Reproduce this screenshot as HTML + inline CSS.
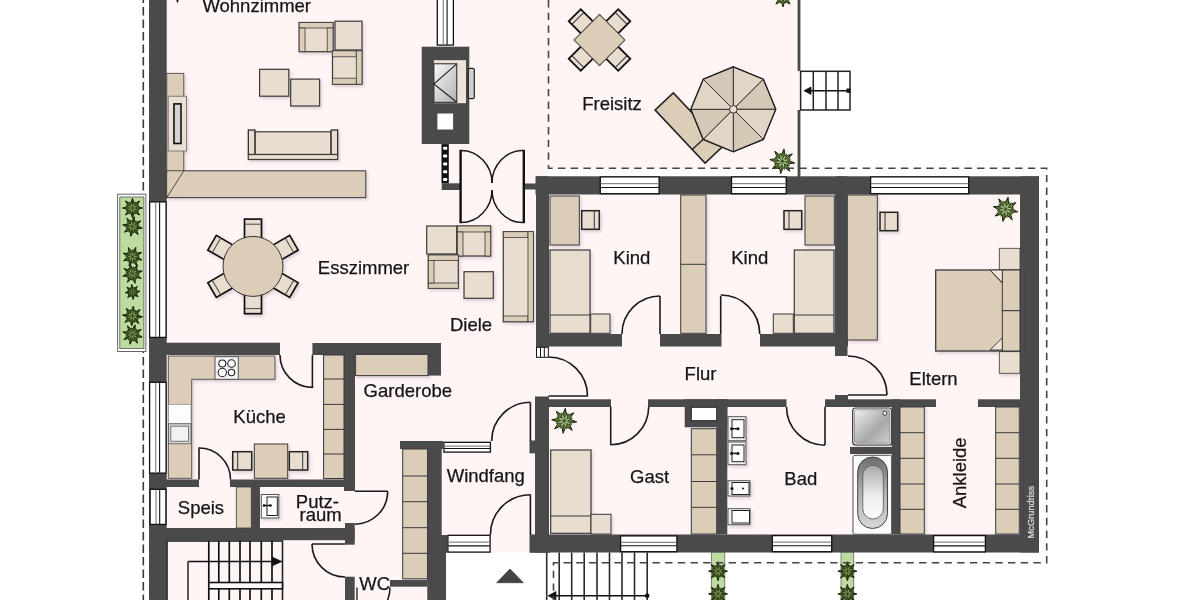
<!DOCTYPE html>
<html><head><meta charset="utf-8"><style>
html,body{margin:0;padding:0;background:#fff;}
svg{display:block;font-family:"Liberation Sans",sans-serif;}
</style></head><body>
<svg width="1200" height="600" viewBox="0 0 1200 600">
<rect x="0.0" y="0.0" width="1200.0" height="600.0" fill="#ffffff" />
<rect x="149.0" y="0.0" width="890.0" height="552.5" fill="#fff5f5" />
<rect x="149.0" y="540.0" width="291.0" height="60.0" fill="#fff5f5" />
<rect x="800.5" y="0.0" width="399.5" height="176.5" fill="#ffffff" />
<rect x="548.5" y="168.3" width="252.0" height="8.2" fill="#ffffff" />
<path d="M143.3,0 V600" stroke="#3a3a3a" stroke-width="1.6" stroke-dasharray="8.5,4" stroke-dashoffset="5.5" fill="none"/>
<rect x="149.0" y="0.0" width="17.7" height="600.0" fill="#4a4a4a" />
<rect x="535.5" y="176.3" width="503.5" height="18.2" fill="#4a4a4a" />
<rect x="1020.0" y="176.3" width="19.0" height="376.2" fill="#4a4a4a" />
<rect x="530.0" y="534.5" width="509.0" height="18.0" fill="#4a4a4a" />
<rect x="536.0" y="176.3" width="13.0" height="170.7" fill="#4a4a4a" />
<rect x="535.0" y="396.5" width="14.0" height="156.0" fill="#4a4a4a" />
<rect x="441.7" y="183.3" width="18.3" height="6.7" fill="#4a4a4a" />
<rect x="525.0" y="183.5" width="11.0" height="6.0" fill="#4a4a4a" />
<rect x="421.7" y="46.7" width="47.6" height="97.3" fill="#4a4a4a" />
<rect x="536.0" y="334.0" width="86.0" height="12.5" fill="#4a4a4a" />
<rect x="660.0" y="334.0" width="61.5" height="12.5" fill="#4a4a4a" />
<rect x="760.0" y="334.0" width="88.0" height="12.5" fill="#4a4a4a" />
<rect x="835.0" y="176.3" width="12.5" height="179.7" fill="#4a4a4a" />
<rect x="835.0" y="395.0" width="13.0" height="12.0" fill="#4a4a4a" />
<rect x="535.0" y="399.3" width="76.0" height="7.7" fill="#4a4a4a" />
<rect x="648.0" y="399.3" width="138.5" height="7.7" fill="#4a4a4a" />
<rect x="825.0" y="399.3" width="111.0" height="7.7" fill="#4a4a4a" />
<rect x="978.0" y="399.3" width="61.0" height="7.7" fill="#4a4a4a" />
<rect x="684.7" y="399.3" width="42.6" height="28.0" fill="#4a4a4a" />
<rect x="716.7" y="399.3" width="10.6" height="135.2" fill="#4a4a4a" />
<rect x="850.0" y="447.0" width="43.0" height="7.0" fill="#4a4a4a" />
<rect x="891.7" y="399.3" width="8.3" height="135.2" fill="#4a4a4a" />
<rect x="149.0" y="342.7" width="131.0" height="12.3" fill="#4a4a4a" />
<rect x="312.4" y="343.0" width="128.6" height="12.0" fill="#4a4a4a" />
<rect x="428.0" y="343.0" width="13.0" height="32.6" fill="#4a4a4a" />
<rect x="344.0" y="343.0" width="11.0" height="148.0" fill="#4a4a4a" />
<rect x="149.0" y="479.5" width="50.0" height="7.5" fill="#4a4a4a" />
<rect x="230.0" y="479.5" width="124.7" height="7.5" fill="#4a4a4a" />
<rect x="251.0" y="487.0" width="9.0" height="41.0" fill="#4a4a4a" />
<rect x="149.0" y="528.0" width="205.7" height="12.2" fill="#4a4a4a" />
<rect x="345.0" y="523.0" width="9.7" height="21.7" fill="#4a4a4a" />
<rect x="345.0" y="576.7" width="9.7" height="23.3" fill="#4a4a4a" />
<rect x="390.0" y="580.0" width="37.5" height="6.7" fill="#4a4a4a" />
<rect x="427.5" y="441.0" width="14.2" height="159.0" fill="#4a4a4a" />
<rect x="400.0" y="441.0" width="43.0" height="8.0" fill="#4a4a4a" />
<rect x="427.0" y="535.0" width="20.3" height="17.7" fill="#4a4a4a" />
<rect x="427.5" y="552.0" width="18.5" height="48.0" fill="#4a4a4a" />
<rect x="529.5" y="440.5" width="6.5" height="12.8" fill="#4a4a4a" />
<rect x="529.5" y="535.3" width="20.5" height="17.4" fill="#4a4a4a" />
<rect x="149.6" y="201.9" width="16.5" height="135.5" fill="#fff" stroke="#111" stroke-width="1.3" />
<line x1="155.7" y1="202.3" x2="155.7" y2="337.0" stroke="#888" stroke-width="1.2" />
<line x1="159.6" y1="202.3" x2="159.6" y2="337.0" stroke="#111" stroke-width="1.1" />
<rect x="149.6" y="382.3" width="16.5" height="90.8" fill="#fff" stroke="#111" stroke-width="1.3" />
<line x1="155.7" y1="382.7" x2="155.7" y2="472.7" stroke="#888" stroke-width="1.2" />
<line x1="159.6" y1="382.7" x2="159.6" y2="472.7" stroke="#111" stroke-width="1.1" />
<rect x="150.1" y="489.3" width="15.8" height="35.1" fill="#fff" stroke="#111" stroke-width="1.3" />
<line x1="156.0" y1="489.7" x2="156.0" y2="524.0" stroke="#888" stroke-width="1.2" />
<line x1="159.7" y1="489.7" x2="159.7" y2="524.0" stroke="#111" stroke-width="1.1" />
<rect x="437.3" y="-1.4" width="16.1" height="46.5" fill="#fff" stroke="#111" stroke-width="1.3" />
<line x1="443.3" y1="-1.0" x2="443.3" y2="44.7" stroke="#888" stroke-width="1.2" />
<line x1="447.1" y1="-1.0" x2="447.1" y2="44.7" stroke="#111" stroke-width="1.1" />
<rect x="600.3" y="176.9" width="58.8" height="16.8" fill="#fff" stroke="#111" stroke-width="1.3" />
<line x1="600.7" y1="183.7" x2="658.7" y2="183.7" stroke="#888" stroke-width="1.2" />
<line x1="600.7" y1="187.5" x2="658.7" y2="187.5" stroke="#111" stroke-width="1.1" />
<rect x="731.5" y="176.9" width="54.7" height="16.8" fill="#fff" stroke="#111" stroke-width="1.3" />
<line x1="731.9" y1="183.7" x2="785.8" y2="183.7" stroke="#888" stroke-width="1.2" />
<line x1="731.9" y1="187.5" x2="785.8" y2="187.5" stroke="#111" stroke-width="1.1" />
<rect x="870.6" y="176.9" width="98.1" height="16.8" fill="#fff" stroke="#111" stroke-width="1.3" />
<line x1="871.0" y1="183.7" x2="968.3" y2="183.7" stroke="#888" stroke-width="1.2" />
<line x1="871.0" y1="187.5" x2="968.3" y2="187.5" stroke="#111" stroke-width="1.1" />
<rect x="620.6" y="535.9" width="56.3" height="15.8" fill="#fff" stroke="#111" stroke-width="1.3" />
<line x1="621.0" y1="542.3" x2="676.5" y2="542.3" stroke="#888" stroke-width="1.2" />
<line x1="621.0" y1="545.8" x2="676.5" y2="545.8" stroke="#111" stroke-width="1.1" />
<rect x="772.3" y="535.6" width="59.4" height="16.1" fill="#fff" stroke="#111" stroke-width="1.3" />
<line x1="772.7" y1="542.1" x2="831.3" y2="542.1" stroke="#888" stroke-width="1.2" />
<line x1="772.7" y1="545.7" x2="831.3" y2="545.7" stroke="#111" stroke-width="1.1" />
<rect x="933.6" y="535.6" width="51.8" height="16.3" fill="#fff" stroke="#111" stroke-width="1.3" />
<line x1="934.0" y1="542.2" x2="985.0" y2="542.2" stroke="#888" stroke-width="1.2" />
<line x1="934.0" y1="545.9" x2="985.0" y2="545.9" stroke="#111" stroke-width="1.1" />
<rect x="443.9" y="442.3" width="46.5" height="9.8" fill="#fff" stroke="#111" stroke-width="1.3" />
<line x1="444.3" y1="446.2" x2="490.0" y2="446.2" stroke="#888" stroke-width="1.2" />
<line x1="444.3" y1="448.5" x2="490.0" y2="448.5" stroke="#111" stroke-width="1.1" />
<rect x="447.9" y="535.3" width="42.2" height="16.8" fill="#fff" stroke="#111" stroke-width="1.3" />
<line x1="448.3" y1="542.1" x2="489.7" y2="542.1" stroke="#888" stroke-width="1.2" />
<line x1="448.3" y1="545.9" x2="489.7" y2="545.9" stroke="#111" stroke-width="1.1" />
<line x1="312.4" y1="355.0" x2="312.4" y2="388.0" stroke="#1a1a1a" stroke-width="1.6" />
<path d="M312.4,387.4 A32.4,32.4 0 0 1 280.0,355.0" fill="none" stroke="#1a1a1a" stroke-width="1.6" />
<line x1="199.0" y1="447.5" x2="199.0" y2="479.5" stroke="#1a1a1a" stroke-width="1.6" />
<path d="M199.0,448.0 A31.5,31.5 0 0 1 230.5,479.5" fill="none" stroke="#1a1a1a" stroke-width="1.6" />
<line x1="354.7" y1="491.2" x2="387.7" y2="491.2" stroke="#1a1a1a" stroke-width="1.6" />
<path d="M387.7,491.2 A33,33 0 0 1 354.7,524.2" fill="none" stroke="#1a1a1a" stroke-width="1.6" />
<line x1="312.0" y1="544.0" x2="345.0" y2="544.0" stroke="#1a1a1a" stroke-width="1.6" />
<path d="M312.0,544.0 A33,33 0 0 0 345.0,577.0" fill="none" stroke="#1a1a1a" stroke-width="1.6" />
<line x1="530.4" y1="402.5" x2="530.4" y2="441.0" stroke="#1a1a1a" stroke-width="1.6" />
<path d="M530.4,402.3 A38.7,38.7 0 0 0 491.7,441.0" fill="none" stroke="#1a1a1a" stroke-width="1.6" />
<line x1="530.4" y1="494.5" x2="530.4" y2="535.0" stroke="#1a1a1a" stroke-width="1.6" />
<path d="M530.4,494.7 A40,40 0 0 0 490.4,534.7" fill="none" stroke="#1a1a1a" stroke-width="1.6" />
<path d="M548.5,357.0 A39,39 0 0 1 587.5,396.0" fill="none" stroke="#1a1a1a" stroke-width="1.6" />
<line x1="548.5" y1="396.0" x2="588.0" y2="396.0" stroke="#1a1a1a" stroke-width="1.6" />
<line x1="610.7" y1="406.7" x2="610.7" y2="445.0" stroke="#1a1a1a" stroke-width="1.6" />
<path d="M610.7,444.7 A38,38 0 0 0 648.7,406.7" fill="none" stroke="#1a1a1a" stroke-width="1.6" />
<line x1="825.0" y1="406.7" x2="825.0" y2="445.0" stroke="#1a1a1a" stroke-width="1.6" />
<path d="M825.0,445.2 A38.5,38.5 0 0 1 786.5,406.7" fill="none" stroke="#1a1a1a" stroke-width="1.6" />
<line x1="660.0" y1="296.0" x2="660.0" y2="334.0" stroke="#1a1a1a" stroke-width="1.6" />
<path d="M660.0,296.0 A38,38 0 0 0 622.0,334.0" fill="none" stroke="#1a1a1a" stroke-width="1.6" />
<line x1="720.7" y1="296.0" x2="720.7" y2="334.0" stroke="#1a1a1a" stroke-width="1.6" />
<path d="M720.7,295.0 A39,39 0 0 1 759.7,334.0" fill="none" stroke="#1a1a1a" stroke-width="1.6" />
<line x1="848.0" y1="395.0" x2="887.0" y2="395.0" stroke="#1a1a1a" stroke-width="1.6" />
<path d="M848.0,356.0 A39,39 0 0 1 887.0,395.0" fill="none" stroke="#1a1a1a" stroke-width="1.6" />
<rect x="459.4" y="149.8" width="2.4" height="73.4" fill="#111" />
<rect x="522.6" y="149.8" width="2.4" height="73.4" fill="#111" />
<path d="M461,150.5 A31,32.5 0 0 1 492,183" fill="none" stroke="#1a1a1a" stroke-width="1.5" />
<path d="M461,222.5 A31,32.5 0 0 0 492,190" fill="none" stroke="#1a1a1a" stroke-width="1.5" />
<path d="M523,150.5 A31,32.5 0 0 0 492,183" fill="none" stroke="#1a1a1a" stroke-width="1.5" />
<path d="M523,222.5 A31,32.5 0 0 1 492,190" fill="none" stroke="#1a1a1a" stroke-width="1.5" />
<rect x="797.6" y="-1.0" width="2.8" height="72.0" fill="#4a4a4a" />
<rect x="797.6" y="110.0" width="2.8" height="67.0" fill="#4a4a4a" />
<rect x="800.6" y="71.3" width="49.4" height="38.7" fill="#fff" stroke="#222" stroke-width="1.5" />
<line x1="813.3" y1="71.3" x2="813.3" y2="110.0" stroke="#222" stroke-width="1.5" />
<line x1="826.0" y1="71.3" x2="826.0" y2="110.0" stroke="#222" stroke-width="1.5" />
<line x1="838.0" y1="71.3" x2="838.0" y2="110.0" stroke="#222" stroke-width="1.5" />
<line x1="808.0" y1="90.7" x2="849.0" y2="90.7" stroke="#111" stroke-width="1.4" />
<path d="M804,90.7 L811,87 L811,94.4 Z" fill="#111" stroke="#111" stroke-width="0.8" />
<rect x="846.5" y="88.5" width="4.0" height="4.3" fill="#111" />
<g transform="rotate(135 617.2 57.7)">
<rect x="608.7" y="47.7" width="17.0" height="20.0" fill="#e9ddd0" stroke="#111" stroke-width="1.8" />
<line x1="608.7" y1="52.2" x2="625.7" y2="52.2" stroke="#333" stroke-width="1.0" />
</g>
<g transform="rotate(225 581.8 57.7)">
<rect x="573.3" y="47.7" width="17.0" height="20.0" fill="#e9ddd0" stroke="#111" stroke-width="1.8" />
<line x1="573.3" y1="52.2" x2="590.3" y2="52.2" stroke="#333" stroke-width="1.0" />
</g>
<g transform="rotate(315 581.8 22.3)">
<rect x="573.3" y="12.3" width="17.0" height="20.0" fill="#e9ddd0" stroke="#111" stroke-width="1.8" />
<line x1="573.3" y1="16.8" x2="590.3" y2="16.8" stroke="#333" stroke-width="1.0" />
</g>
<g transform="rotate(405 617.2 22.3)">
<rect x="608.7" y="12.3" width="17.0" height="20.0" fill="#e9ddd0" stroke="#111" stroke-width="1.8" />
<line x1="608.7" y1="16.8" x2="625.7" y2="16.8" stroke="#333" stroke-width="1.0" />
</g>
<rect x="581.5" y="22" width="36" height="36" fill="#dccdb9" stroke="#444" stroke-width="1" transform="rotate(45 599.5 40)"/>
<g transform="rotate(46.8 689.2 128)">
<rect x="652.7" y="115.5" width="73.0" height="25.0" fill="#dccdb9" stroke="#222" stroke-width="1.6" />
<line x1="707.0" y1="115.5" x2="707.0" y2="140.5" stroke="#222" stroke-width="1.4" />
</g>
<path d="M733.3,109.3 L733.3,66.8 L763.4,79.2 Z" fill="#e2d5c6" stroke="#333" stroke-width="1"/>
<path d="M733.3,109.3 L763.4,79.2 L775.8,109.3 Z" fill="#d6c8b6" stroke="#333" stroke-width="1"/>
<path d="M733.3,109.3 L775.8,109.3 L763.4,139.4 Z" fill="#e2d5c6" stroke="#333" stroke-width="1"/>
<path d="M733.3,109.3 L763.4,139.4 L733.3,151.8 Z" fill="#d6c8b6" stroke="#333" stroke-width="1"/>
<path d="M733.3,109.3 L733.3,151.8 L703.2,139.4 Z" fill="#e2d5c6" stroke="#333" stroke-width="1"/>
<path d="M733.3,109.3 L703.2,139.4 L690.8,109.3 Z" fill="#d6c8b6" stroke="#333" stroke-width="1"/>
<path d="M733.3,109.3 L690.8,109.3 L703.2,79.2 Z" fill="#e2d5c6" stroke="#333" stroke-width="1"/>
<path d="M733.3,109.3 L703.2,79.2 L733.3,66.8 Z" fill="#d6c8b6" stroke="#333" stroke-width="1"/>
<polygon points="733.3,66.8 763.4,79.2 775.8,109.3 763.4,139.4 733.3,151.8 703.2,139.4 690.8,109.3 703.2,79.2" fill="none" stroke="#222" stroke-width="1.3"/>
<circle cx="733.3" cy="109.3" r="3.8" fill="#eadfd2" stroke="#333" stroke-width="1"/>
<defs><filter id="fsh" x="-20%" y="-20%" width="140%" height="140%"><feDropShadow dx="1.5" dy="2" stdDeviation="1.8" flood-color="#5a5060" flood-opacity="0.22"/></filter></defs>
<g filter="url(#fsh)">
<rect x="166.8" y="73.3" width="17.0" height="123.7" fill="#dccdb9" stroke="#3a3a3a" stroke-width="0.8" />
<rect x="166.8" y="170.8" width="199.0" height="26.8" fill="#dccdb9" stroke="#3a3a3a" stroke-width="1" />
<rect x="167.5" y="171.6" width="16.3" height="25.4" fill="#dccdb9" />
<line x1="183.8" y1="170.8" x2="167.0" y2="197.3" stroke="#3a3a3a" stroke-width="0.9" />
<rect x="168.2" y="96.2" width="18.4" height="54.8" fill="#eadfd2" stroke="#666" stroke-width="0.8" />
<rect x="174.0" y="103.9" width="7.0" height="39.6" fill="#d4d4d4" stroke="#111" stroke-width="1.6" />
<rect x="255.0" y="131.8" width="76.0" height="22.7" fill="#e9ddd0" stroke="#3a3a3a" stroke-width="1.2" />
<rect x="248.3" y="130.0" width="6.6" height="24.5" fill="#e9ddd0" stroke="#222" stroke-width="1.2" />
<rect x="331.1" y="130.0" width="6.6" height="24.5" fill="#e9ddd0" stroke="#222" stroke-width="1.2" />
<rect x="248.3" y="154.5" width="89.4" height="5.0" fill="#e9ddd0" stroke="#3a3a3a" stroke-width="1.2" />
<rect x="259.6" y="69.3" width="29.2" height="26.9" fill="#e9ddd0" stroke="#3a3a3a" stroke-width="1.2" />
<rect x="290.7" y="79.1" width="28.9" height="26.9" fill="#e9ddd0" stroke="#3a3a3a" stroke-width="1.2" />
<rect x="299.2" y="22.5" width="33.8" height="29.2" fill="#e9ddd0" stroke="#3a3a3a" stroke-width="1.2" />
<rect x="299.2" y="22.5" width="33.8" height="5.5" fill="#dccdb9" stroke="#3a3a3a" stroke-width="0.8" />
<rect x="299.2" y="28.0" width="5.8" height="23.7" fill="#dccdb9" stroke="#3a3a3a" stroke-width="0.8" />
<rect x="327.2" y="28.0" width="5.8" height="23.7" fill="#dccdb9" stroke="#3a3a3a" stroke-width="0.8" />
<rect x="335.0" y="21.2" width="27.0" height="28.8" fill="#e9ddd0" stroke="#3a3a3a" stroke-width="1.2" />
<rect x="332.5" y="50.8" width="29.5" height="33.4" fill="#e9ddd0" stroke="#3a3a3a" stroke-width="1.2" />
<rect x="332.5" y="50.8" width="23.8" height="6.0" fill="#dccdb9" stroke="#3a3a3a" stroke-width="0.8" />
<rect x="332.5" y="78.2" width="23.8" height="6.0" fill="#dccdb9" stroke="#3a3a3a" stroke-width="0.8" />
<rect x="356.3" y="50.8" width="5.7" height="33.4" fill="#dccdb9" stroke="#3a3a3a" stroke-width="0.8" />
<g transform="rotate(0 253.0 229.4)">
<rect x="244.5" y="219.1" width="17.0" height="20.6" fill="#e9ddd0" stroke="#111" stroke-width="1.7" />
<line x1="244.5" y1="224.2" x2="261.5" y2="224.2" stroke="#444" stroke-width="1.0" />
</g>
<g transform="rotate(60 285.0 247.9)">
<rect x="276.5" y="237.6" width="17.0" height="20.6" fill="#e9ddd0" stroke="#111" stroke-width="1.7" />
<line x1="276.5" y1="242.7" x2="293.5" y2="242.7" stroke="#444" stroke-width="1.0" />
</g>
<g transform="rotate(120 285.0 284.9)">
<rect x="276.5" y="274.6" width="17.0" height="20.6" fill="#e9ddd0" stroke="#111" stroke-width="1.7" />
<line x1="276.5" y1="279.7" x2="293.5" y2="279.7" stroke="#444" stroke-width="1.0" />
</g>
<g transform="rotate(180 253.0 303.4)">
<rect x="244.5" y="293.1" width="17.0" height="20.6" fill="#e9ddd0" stroke="#111" stroke-width="1.7" />
<line x1="244.5" y1="298.2" x2="261.5" y2="298.2" stroke="#444" stroke-width="1.0" />
</g>
<g transform="rotate(240 221.0 284.9)">
<rect x="212.5" y="274.6" width="17.0" height="20.6" fill="#e9ddd0" stroke="#111" stroke-width="1.7" />
<line x1="212.5" y1="279.7" x2="229.5" y2="279.7" stroke="#444" stroke-width="1.0" />
</g>
<g transform="rotate(300 221.0 247.9)">
<rect x="212.5" y="237.6" width="17.0" height="20.6" fill="#e9ddd0" stroke="#111" stroke-width="1.7" />
<line x1="212.5" y1="242.7" x2="229.5" y2="242.7" stroke="#444" stroke-width="1.0" />
</g>
<circle cx="253" cy="266.4" r="30" fill="#dccdb9" stroke="#333" stroke-width="1"/>
<rect x="426.7" y="226.0" width="30.0" height="28.0" fill="#e9ddd0" stroke="#3a3a3a" stroke-width="1.2" />
<rect x="457.3" y="226.0" width="33.4" height="30.0" fill="#e9ddd0" stroke="#3a3a3a" stroke-width="1.2" />
<rect x="457.3" y="226.0" width="33.4" height="6.0" fill="#dccdb9" stroke="#3a3a3a" stroke-width="0.8" />
<rect x="457.3" y="232.0" width="5.7" height="24.0" fill="#dccdb9" stroke="#3a3a3a" stroke-width="0.8" />
<rect x="485.0" y="232.0" width="5.7" height="24.0" fill="#dccdb9" stroke="#3a3a3a" stroke-width="0.8" />
<rect x="428.3" y="255.0" width="30.0" height="33.3" fill="#e9ddd0" stroke="#3a3a3a" stroke-width="1.2" />
<rect x="428.3" y="255.0" width="30.0" height="5.5" fill="#dccdb9" stroke="#3a3a3a" stroke-width="0.8" />
<rect x="428.3" y="283.0" width="30.0" height="5.3" fill="#dccdb9" stroke="#3a3a3a" stroke-width="0.8" />
<rect x="428.3" y="260.5" width="5.7" height="22.5" fill="#dccdb9" stroke="#3a3a3a" stroke-width="0.8" />
<rect x="464.0" y="271.7" width="29.3" height="26.6" fill="#e9ddd0" stroke="#3a3a3a" stroke-width="1.2" />
<rect x="503.3" y="231.7" width="30.0" height="90.0" fill="#e9ddd0" stroke="#3a3a3a" stroke-width="1.2" />
<rect x="503.3" y="231.7" width="24.7" height="5.8" fill="#dccdb9" stroke="#3a3a3a" stroke-width="0.8" />
<rect x="503.3" y="316.0" width="24.7" height="5.7" fill="#dccdb9" stroke="#3a3a3a" stroke-width="0.8" />
<rect x="528.0" y="231.7" width="5.3" height="90.0" fill="#dccdb9" stroke="#3a3a3a" stroke-width="0.8" />
<rect x="550.0" y="196.0" width="29.3" height="49.0" fill="#dccdb9" stroke="#3a3a3a" stroke-width="1" />
<rect x="581.7" y="210.7" width="17.6" height="18.6" fill="#e9ddd0" stroke="#222" stroke-width="1.5" />
<line x1="594.3" y1="210.7" x2="594.3" y2="229.3" stroke="#333" stroke-width="1" />
<rect x="550.0" y="250.0" width="40.0" height="83.3" fill="#e9ddd0" stroke="#3a3a3a" stroke-width="1.2" />
<line x1="550.0" y1="315.0" x2="590.0" y2="315.0" stroke="#3a3a3a" stroke-width="1.2" />
<rect x="590.7" y="314.0" width="19.3" height="19.3" fill="#e9ddd0" stroke="#3a3a3a" stroke-width="1" />
<rect x="680.7" y="195.0" width="25.3" height="138.3" fill="#dccdb9" stroke="#3a3a3a" stroke-width="1" />
<line x1="680.7" y1="264.3" x2="706.0" y2="264.3" stroke="#3a3a3a" stroke-width="1" />
<rect x="805.0" y="196.0" width="29.3" height="49.0" fill="#dccdb9" stroke="#3a3a3a" stroke-width="1" />
<rect x="784.0" y="210.7" width="17.7" height="18.6" fill="#e9ddd0" stroke="#222" stroke-width="1.5" />
<line x1="789.0" y1="210.7" x2="789.0" y2="229.3" stroke="#333" stroke-width="1" />
<rect x="794.3" y="250.0" width="39.7" height="83.3" fill="#e9ddd0" stroke="#3a3a3a" stroke-width="1.2" />
<line x1="794.3" y1="315.0" x2="834.0" y2="315.0" stroke="#3a3a3a" stroke-width="1.2" />
<rect x="773.3" y="314.0" width="20.0" height="19.3" fill="#e9ddd0" stroke="#3a3a3a" stroke-width="1" />
<rect x="847.3" y="195.0" width="30.0" height="145.0" fill="#dccdb9" stroke="#3a3a3a" stroke-width="1" />
<rect x="880.0" y="212.3" width="17.7" height="18.4" fill="#e9ddd0" stroke="#222" stroke-width="1.5" />
<line x1="885.0" y1="212.3" x2="885.0" y2="230.7" stroke="#333" stroke-width="1" />
<rect x="999.3" y="248.3" width="20.7" height="21.7" fill="#e9ddd0" stroke="#3a3a3a" stroke-width="0.8" />
<rect x="999.3" y="351.7" width="20.7" height="21.6" fill="#e9ddd0" stroke="#3a3a3a" stroke-width="0.8" />
<rect x="935.7" y="270.0" width="84.3" height="81.0" fill="#dccdb9" stroke="#3a3a3a" stroke-width="1.3" />
<rect x="1002.3" y="270.0" width="17.7" height="40.7" fill="#dccdb9" stroke="#3a3a3a" stroke-width="1" />
<rect x="1002.3" y="310.7" width="17.7" height="40.3" fill="#dccdb9" stroke="#3a3a3a" stroke-width="1" />
<path d="M990,270 L1002.3,270 L1002.3,283 Z" fill="#eee4d8" stroke="#333" stroke-width="0.9" />
<path d="M990,270 L1002.3,283" fill="none" stroke="#333" stroke-width="0.9" />
<path d="M990,350 L1002.3,350 L1002.3,338 Z" fill="#eee4d8" stroke="#333" stroke-width="0.9" />
<rect x="900.0" y="407.0" width="24.3" height="127.0" fill="#dccdb9" stroke="#3a3a3a" stroke-width="1" />
<line x1="900.0" y1="432.7" x2="924.3" y2="432.7" stroke="#3a3a3a" stroke-width="1" />
<line x1="900.0" y1="458.3" x2="924.3" y2="458.3" stroke="#3a3a3a" stroke-width="1" />
<line x1="900.0" y1="484.0" x2="924.3" y2="484.0" stroke="#3a3a3a" stroke-width="1" />
<line x1="900.0" y1="509.3" x2="924.3" y2="509.3" stroke="#3a3a3a" stroke-width="1" />
<rect x="995.7" y="407.0" width="23.6" height="127.0" fill="#dccdb9" stroke="#3a3a3a" stroke-width="1" />
<line x1="995.7" y1="432.7" x2="1019.3" y2="432.7" stroke="#3a3a3a" stroke-width="1" />
<line x1="995.7" y1="458.3" x2="1019.3" y2="458.3" stroke="#3a3a3a" stroke-width="1" />
<line x1="995.7" y1="484.0" x2="1019.3" y2="484.0" stroke="#3a3a3a" stroke-width="1" />
<line x1="995.7" y1="509.3" x2="1019.3" y2="509.3" stroke="#3a3a3a" stroke-width="1" />
<defs><linearGradient id="gsh" x1="0" y1="0" x2="1" y2="1"><stop offset="0" stop-color="#f0f0f0"/><stop offset="0.6" stop-color="#a8a8a8"/><stop offset="1" stop-color="#d0d0d0"/></linearGradient><linearGradient id="gtub" x1="0" y1="0" x2="0" y2="1"><stop offset="0" stop-color="#6e6e6e"/><stop offset="0.5" stop-color="#b0b0b0"/><stop offset="1" stop-color="#d8d8d8"/></linearGradient><linearGradient id="gst" x1="0" y1="0" x2="1" y2="1"><stop offset="0" stop-color="#fafafa"/><stop offset="1" stop-color="#b0b0b0"/></linearGradient><linearGradient id="gtub2" x1="0" y1="0" x2="0" y2="1"><stop offset="0" stop-color="#a8a8a8"/><stop offset="0.6" stop-color="#f0f0f0"/><stop offset="1" stop-color="#fafafa"/></linearGradient></defs>
<rect x="852.7" y="408" width="39" height="37" rx="3" fill="#fafafa" stroke="#333" stroke-width="1.2"/>
<rect x="854.5" y="409.8" width="35.4" height="33.4" rx="2" fill="url(#gsh)" stroke="#666" stroke-width="0.6"/>
<rect x="883" y="411.5" width="3.6" height="3.6" rx="1" fill="#fff" stroke="#222" stroke-width="0.8"/>
<rect x="853" y="455.3" width="38.6" height="79" rx="2" fill="#fbfbfb" stroke="#555" stroke-width="1"/>
<rect x="857.7" y="457" width="29.8" height="71.5" rx="14.9" fill="url(#gtub)" stroke="#444" stroke-width="1"/>
<rect x="862.8" y="465.3" width="20.5" height="53.7" rx="10.2" fill="url(#gtub2)" stroke="#555" stroke-width="0.8"/>
<rect x="728.0" y="416.7" width="18.0" height="24.0" fill="#f2f2f2" stroke="#555" stroke-width="1" />
<rect x="732.0" y="419.7" width="12.0" height="18.0" fill="#fff" stroke="#222" stroke-width="1" />
<line x1="731.0" y1="428.7" x2="738.0" y2="428.7" stroke="#111" stroke-width="1.5" />
<circle cx="731.5" cy="428.7" r="1.5" fill="#111"/>
<circle cx="738" cy="428.7" r="1.5" fill="#111"/>
<rect x="728.0" y="442.0" width="18.0" height="22.7" fill="#f2f2f2" stroke="#555" stroke-width="1" />
<rect x="732.0" y="445.0" width="12.0" height="16.7" fill="#fff" stroke="#222" stroke-width="1" />
<line x1="731.0" y1="453.4" x2="738.0" y2="453.4" stroke="#111" stroke-width="1.5" />
<circle cx="731.5" cy="453.4" r="1.5" fill="#111"/>
<circle cx="738" cy="453.4" r="1.5" fill="#111"/>
<rect x="728.0" y="480.7" width="22.0" height="15.3" fill="#f2f2f2" stroke="#555" stroke-width="1" />
<rect x="732.0" y="482.5" width="17.0" height="12.0" fill="#fff" stroke="#222" stroke-width="1" />
<circle cx="732" cy="488.5" r="1.5" fill="#111"/><circle cx="743" cy="488.5" r="1" fill="#111"/>
<rect x="728.0" y="508.7" width="22.0" height="16.0" fill="#f2f2f2" stroke="#555" stroke-width="1" />
<rect x="732.0" y="510.5" width="17.5" height="12.5" fill="#fff" stroke="#222" stroke-width="1" />
<rect x="550.7" y="450.0" width="40.3" height="83.3" fill="#e9ddd0" stroke="#3a3a3a" stroke-width="1.2" />
<line x1="550.7" y1="516.0" x2="591.0" y2="516.0" stroke="#3a3a3a" stroke-width="1.2" />
<rect x="591.0" y="514.3" width="20.0" height="19.7" fill="#e9ddd0" stroke="#3a3a3a" stroke-width="1" />
<rect x="691.3" y="428.7" width="25.4" height="105.3" fill="#dccdb9" stroke="#3a3a3a" stroke-width="1" />
<line x1="691.3" y1="454.8" x2="716.7" y2="454.8" stroke="#3a3a3a" stroke-width="1" />
<line x1="691.3" y1="481.5" x2="716.7" y2="481.5" stroke="#3a3a3a" stroke-width="1" />
<line x1="691.3" y1="507.3" x2="716.7" y2="507.3" stroke="#3a3a3a" stroke-width="1" />
<rect x="691.3" y="407.3" width="25.4" height="13.4" fill="#fff" stroke="#222" stroke-width="1" />
<path d="M168.3,356 H275 V379.3 H191.7 V478.3 H168.3 Z" fill="#dccdb9" stroke="#3a3a3a" stroke-width="0.8" />
<rect x="215.0" y="356.7" width="23.3" height="22.6" fill="#f4f4f4" stroke="#555" stroke-width="1" />
<circle cx="222.3" cy="363.5" r="3.5" fill="#fff" stroke="#222" stroke-width="1.1"/>
<circle cx="231.5" cy="363.5" r="3.8" fill="#fff" stroke="#222" stroke-width="1.1"/>
<circle cx="222.3" cy="372.5" r="4.2" fill="#fff" stroke="#222" stroke-width="1.1"/>
<circle cx="231.5" cy="372.5" r="3.2" fill="#fff" stroke="#222" stroke-width="1.1"/>
<rect x="168.5" y="404.5" width="22.5" height="19.3" fill="#fdfdfd" stroke="#999" stroke-width="0.8" />
<rect x="168.5" y="423.8" width="22.5" height="20.0" fill="#d8d8d8" stroke="#555" stroke-width="0.8" />
<rect x="170.8" y="426.2" width="17.7" height="15.1" fill="#f2f2f2" stroke="#777" stroke-width="1" />
<rect x="254.3" y="444.0" width="33.4" height="34.3" fill="#dccdb9" stroke="#3a3a3a" stroke-width="1" />
<rect x="232.7" y="451.7" width="19.0" height="18.3" fill="#e9ddd0" stroke="#222" stroke-width="1.5" />
<line x1="237.7" y1="451.7" x2="237.7" y2="470.0" stroke="#333" stroke-width="1" />
<rect x="289.3" y="451.7" width="18.4" height="18.3" fill="#e9ddd0" stroke="#222" stroke-width="1.5" />
<line x1="302.7" y1="451.7" x2="302.7" y2="470.0" stroke="#333" stroke-width="1" />
<rect x="323.6" y="355.0" width="20.4" height="123.5" fill="#dccdb9" stroke="#3a3a3a" stroke-width="1" />
<line x1="323.6" y1="379.0" x2="344.0" y2="379.0" stroke="#3a3a3a" stroke-width="1" />
<line x1="323.6" y1="404.4" x2="344.0" y2="404.4" stroke="#3a3a3a" stroke-width="1" />
<line x1="323.6" y1="429.4" x2="344.0" y2="429.4" stroke="#3a3a3a" stroke-width="1" />
<line x1="323.6" y1="454.0" x2="344.0" y2="454.0" stroke="#3a3a3a" stroke-width="1" />
<rect x="236.3" y="487.0" width="15.0" height="41.0" fill="#dccdb9" stroke="#3a3a3a" stroke-width="0.8" />
<rect x="261.3" y="494.5" width="17.5" height="23.5" fill="#fafafa" stroke="#555" stroke-width="1" />
<rect x="267.0" y="497.0" width="10.3" height="18.5" fill="#fff" stroke="#222" stroke-width="1" />
<line x1="263.5" y1="505.5" x2="271.0" y2="505.5" stroke="#111" stroke-width="1.4" />
<circle cx="264" cy="505.5" r="1.3" fill="#111"/><circle cx="270.5" cy="505.5" r="1.3" fill="#111"/>
<rect x="355.6" y="354.4" width="72.4" height="21.2" fill="#dccdb9" stroke="#3a3a3a" stroke-width="1" />
<rect x="402.7" y="449.0" width="24.8" height="129.8" fill="#dccdb9" stroke="#3a3a3a" stroke-width="1" />
<line x1="402.7" y1="476.0" x2="427.5" y2="476.0" stroke="#3a3a3a" stroke-width="1" />
<line x1="402.7" y1="501.7" x2="427.5" y2="501.7" stroke="#3a3a3a" stroke-width="1" />
<line x1="402.7" y1="527.7" x2="427.5" y2="527.7" stroke="#3a3a3a" stroke-width="1" />
<line x1="402.7" y1="553.3" x2="427.5" y2="553.3" stroke="#3a3a3a" stroke-width="1" />
</g>
<rect x="433.9" y="60.2" width="32.1" height="43.0" fill="#efe3d8" />
<rect x="433.9" y="63.8" width="22.9" height="38.5" fill="url(#gst)" stroke="#222" stroke-width="1" />
<path d="M456.8,63.8 L433.9,84 L456.8,102.3" fill="none" stroke="#222" stroke-width="1.1" />
<rect x="468.3" y="68.4" width="6" height="30.2" rx="1.5" fill="#cfcfcf" stroke="#222" stroke-width="1.2"/>
<rect x="437.4" y="113.5" width="15.7" height="16.0" fill="#fff" />
<rect x="441.5" y="144.1" width="7.3" height="39.2" fill="#111" />
<rect x="443.1" y="146.8" width="4.1" height="3" rx="0.8" fill="#fff"/>
<rect x="443.1" y="154.6" width="4.1" height="3" rx="0.8" fill="#fff"/>
<rect x="443.1" y="162.4" width="4.1" height="3" rx="0.8" fill="#fff"/>
<rect x="443.1" y="170.2" width="4.1" height="3" rx="0.8" fill="#fff"/>
<rect x="443.1" y="177.9" width="4.1" height="3" rx="0.8" fill="#fff"/>
<rect x="536.5" y="347.3" width="11.8" height="10.0" fill="#fff" stroke="#111" stroke-width="1" />
<line x1="540.5" y1="347.3" x2="540.5" y2="357.3" stroke="#111" stroke-width="1" />
<line x1="544.3" y1="347.3" x2="544.3" y2="357.3" stroke="#111" stroke-width="1" />
<rect x="167.0" y="541.0" width="115.5" height="60.0" fill="#fff5f5" stroke="#222" stroke-width="1.6" />
<line x1="188.0" y1="561.5" x2="188.0" y2="601.0" stroke="#222" stroke-width="1.5" />
<line x1="188.0" y1="561.5" x2="276.0" y2="561.5" stroke="#111" stroke-width="1.5" />
<path d="M282,561.5 L272,557 L272,566 Z" fill="#111" stroke="#111" stroke-width="0.6" />
<line x1="208.8" y1="541.0" x2="208.8" y2="601.0" stroke="#111" stroke-width="1.7" />
<line x1="218.8" y1="541.0" x2="218.8" y2="601.0" stroke="#111" stroke-width="1.7" />
<line x1="229.3" y1="541.0" x2="229.3" y2="601.0" stroke="#111" stroke-width="1.7" />
<line x1="240.0" y1="541.0" x2="240.0" y2="601.0" stroke="#111" stroke-width="1.7" />
<line x1="250.0" y1="541.0" x2="250.0" y2="601.0" stroke="#111" stroke-width="1.7" />
<line x1="261.3" y1="541.0" x2="261.3" y2="601.0" stroke="#111" stroke-width="1.7" />
<line x1="272.0" y1="541.0" x2="272.0" y2="601.0" stroke="#111" stroke-width="1.7" />
<rect x="208.8" y="582.5" width="73.7" height="6.3" fill="#fdfafa" stroke="#111" stroke-width="1.6" />
<line x1="357.0" y1="587.5" x2="357.0" y2="601.0" stroke="#222" stroke-width="1.4" />
<path d="M390,587.5 A33,33 0 0 1 382,609" fill="none" stroke="#1a1a1a" stroke-width="1.5" />
<line x1="546.7" y1="552.5" x2="546.7" y2="601.0" stroke="#2a2a2a" stroke-width="1.6" />
<line x1="559.2" y1="552.5" x2="559.2" y2="601.0" stroke="#2a2a2a" stroke-width="1.6" />
<line x1="571.7" y1="552.5" x2="571.7" y2="601.0" stroke="#2a2a2a" stroke-width="1.6" />
<line x1="584.2" y1="552.5" x2="584.2" y2="601.0" stroke="#2a2a2a" stroke-width="1.6" />
<line x1="597.0" y1="552.5" x2="597.0" y2="601.0" stroke="#2a2a2a" stroke-width="1.6" />
<line x1="609.5" y1="552.5" x2="609.5" y2="601.0" stroke="#2a2a2a" stroke-width="1.6" />
<line x1="622.0" y1="552.5" x2="622.0" y2="601.0" stroke="#2a2a2a" stroke-width="1.6" />
<line x1="634.5" y1="552.5" x2="634.5" y2="601.0" stroke="#2a2a2a" stroke-width="1.6" />
<line x1="647.2" y1="552.5" x2="647.2" y2="601.0" stroke="#2a2a2a" stroke-width="1.6" />
<line x1="553.0" y1="595.8" x2="647.0" y2="595.8" stroke="#111" stroke-width="1.4" />
<path d="M548,595.8 L556,591.5 L556,600 Z" fill="#111" stroke="#111" stroke-width="0.6" />
<circle cx="647.2" cy="595.8" r="2.3" fill="#111"/>
<path d="M496.7,582.7 L510,569 L523.3,582.7 Z" fill="#444" stroke="#444" stroke-width="0.8" />
<rect x="117.6" y="194.2" width="28.3" height="157.3" fill="#fff" stroke="#666" stroke-width="1" />
<rect x="119.8" y="197.0" width="24.1" height="151.6" fill="#bddb9e" stroke="#555" stroke-width="0.8" />
<polygon points="142.5,208.0 136.7,209.7 139.6,215.1 134.2,212.2 132.5,218.0 130.8,212.2 125.4,215.1 128.3,209.7 122.5,208.0 128.3,206.3 125.4,200.9 130.8,203.8 132.5,198.0 134.2,203.8 139.6,200.9 136.7,206.3" fill="#58762f" stroke="#18220c" stroke-width="1"/>
<polygon points="138.8,210.6 134.6,210.1 135.1,214.3 132.5,211.0 129.9,214.3 130.4,210.1 126.2,210.6 129.5,208.0 126.2,205.4 130.4,205.9 129.9,201.7 132.5,205.0 135.1,201.7 134.6,205.9 138.8,205.4 135.5,208.0" fill="#90ab62" stroke="#22300f" stroke-width="0.7"/>
<path d="M132.5,208.0 L141.0,208.0 M132.5,208.0 L138.5,214.0 M132.5,208.0 L132.5,216.5 M132.5,208.0 L126.5,214.0 M132.5,208.0 L124.0,208.0 M132.5,208.0 L126.5,202.0 M132.5,208.0 L132.5,199.5 M132.5,208.0 L138.5,202.0 " stroke="#1c2a0c" stroke-width="0.6" fill="none"/>
<polygon points="142.3,228.2 136.3,228.9 138.2,234.7 133.5,230.9 130.8,236.3 130.1,230.3 124.3,232.2 128.1,227.5 122.7,224.8 128.7,224.1 126.8,218.3 131.5,222.1 134.2,216.7 134.9,222.7 140.7,220.8 136.9,225.5" fill="#58762f" stroke="#18220c" stroke-width="1"/>
<polygon points="138.2,230.2 134.2,229.0 134.0,233.1 132.0,229.5 128.8,232.2 130.0,228.2 125.9,228.0 129.5,226.0 126.8,222.8 130.8,224.0 131.0,219.9 133.0,223.5 136.2,220.8 135.0,224.8 139.1,225.0 135.5,227.0" fill="#90ab62" stroke="#22300f" stroke-width="0.7"/>
<path d="M132.5,226.5 L140.9,228.0 M132.5,226.5 L137.4,233.5 M132.5,226.5 L131.0,234.9 M132.5,226.5 L125.5,231.4 M132.5,226.5 L124.1,225.0 M132.5,226.5 L127.6,219.5 M132.5,226.5 L134.0,218.1 M132.5,226.5 L139.5,221.6 " stroke="#1c2a0c" stroke-width="0.6" fill="none"/>
<polygon points="141.9,260.0 135.8,259.6 136.7,265.7 132.7,261.1 129.1,266.0 129.5,259.9 123.4,260.8 128.0,256.8 123.1,253.2 129.2,253.6 128.3,247.5 132.3,252.1 135.9,247.2 135.5,253.3 141.6,252.4 137.0,256.4" fill="#58762f" stroke="#18220c" stroke-width="1"/>
<polygon points="137.5,261.2 133.8,259.3 132.8,263.4 131.5,259.4 127.9,261.6 129.8,257.9 125.7,256.9 129.7,255.6 127.5,252.0 131.2,253.9 132.2,249.8 133.5,253.8 137.1,251.6 135.2,255.3 139.3,256.3 135.3,257.6" fill="#90ab62" stroke="#22300f" stroke-width="0.7"/>
<path d="M132.5,256.6 L140.5,259.5 M132.5,256.6 L136.1,264.3 M132.5,256.6 L129.6,264.6 M132.5,256.6 L124.8,260.2 M132.5,256.6 L124.5,253.7 M132.5,256.6 L128.9,248.9 M132.5,256.6 L135.4,248.6 M132.5,256.6 L140.2,253.0 " stroke="#1c2a0c" stroke-width="0.6" fill="none"/>
<polygon points="141.2,278.6 135.2,277.2 135.1,283.3 131.9,278.1 127.5,282.3 128.9,276.3 122.8,276.2 128.0,273.0 123.8,268.6 129.8,270.0 129.9,263.9 133.1,269.1 137.5,264.9 136.1,270.9 142.2,271.0 137.0,274.2" fill="#58762f" stroke="#18220c" stroke-width="1"/>
<polygon points="136.6,279.0 133.3,276.5 131.6,280.3 131.0,276.2 127.1,277.7 129.6,274.4 125.8,272.7 129.9,272.1 128.4,268.2 131.7,270.7 133.4,266.9 134.0,271.0 137.9,269.5 135.4,272.8 139.2,274.5 135.1,275.1" fill="#90ab62" stroke="#22300f" stroke-width="0.7"/>
<path d="M132.5,273.6 L139.9,277.9 M132.5,273.6 L134.7,281.8 M132.5,273.6 L128.2,281.0 M132.5,273.6 L124.3,275.8 M132.5,273.6 L125.1,269.4 M132.5,273.6 L130.3,265.4 M132.5,273.6 L136.8,266.2 M132.5,273.6 L140.7,271.4 " stroke="#1c2a0c" stroke-width="0.6" fill="none"/>
<polygon points="138.2,296.8 134.1,295.0 133.2,299.5 131.5,295.2 127.7,297.7 129.5,293.6 125.0,292.7 129.3,291.0 126.8,287.2 130.9,289.0 131.8,284.5 133.5,288.8 137.3,286.3 135.5,290.4 140.0,291.3 135.7,293.0" fill="#58762f" stroke="#18220c" stroke-width="1"/>
<polygon points="134.9,296.5 132.7,294.2 131.0,296.9 131.1,293.7 128.0,294.4 130.3,292.2 127.6,290.5 130.8,290.6 130.1,287.5 132.3,289.8 134.0,287.1 133.9,290.3 137.0,289.6 134.7,291.8 137.4,293.5 134.2,293.4" fill="#90ab62" stroke="#22300f" stroke-width="0.7"/>
<path d="M132.5,292.0 L137.4,296.1 M132.5,292.0 L133.1,298.4 M132.5,292.0 L128.4,296.9 M132.5,292.0 L126.1,292.6 M132.5,292.0 L127.6,287.9 M132.5,292.0 L131.9,285.6 M132.5,292.0 L136.6,287.1 M132.5,292.0 L138.9,291.4 " stroke="#1c2a0c" stroke-width="0.6" fill="none"/>
<polygon points="138.9,323.7 133.9,320.3 131.6,326.0 130.4,320.0 124.8,322.4 128.2,317.4 122.5,315.1 128.5,313.9 126.1,308.3 131.1,311.7 133.4,306.0 134.6,312.0 140.2,309.6 136.8,314.6 142.5,316.9 136.5,318.1" fill="#58762f" stroke="#18220c" stroke-width="1"/>
<polygon points="134.5,322.5 132.2,319.0 129.4,322.0 130.2,317.9 126.0,318.0 129.5,315.7 126.5,312.9 130.6,313.7 130.5,309.5 132.8,313.0 135.6,310.0 134.8,314.1 139.0,314.0 135.5,316.3 138.5,319.1 134.4,318.3" fill="#90ab62" stroke="#22300f" stroke-width="0.7"/>
<path d="M132.5,316.0 L138.0,322.5 M132.5,316.0 L131.8,324.5 M132.5,316.0 L126.0,321.5 M132.5,316.0 L124.0,315.3 M132.5,316.0 L127.0,309.5 M132.5,316.0 L133.2,307.5 M132.5,316.0 L139.0,310.5 M132.5,316.0 L141.0,316.7 " stroke="#1c2a0c" stroke-width="0.6" fill="none"/>
<polygon points="137.5,343.2 133.1,339.0 129.9,344.2 129.8,338.1 123.8,339.5 128.0,335.1 122.8,331.9 128.9,331.8 127.5,325.8 131.9,330.0 135.1,324.8 135.2,330.9 141.2,329.5 137.0,333.9 142.2,337.1 136.1,337.2" fill="#58762f" stroke="#18220c" stroke-width="1"/>
<polygon points="133.4,341.2 131.7,337.4 128.4,339.9 129.9,336.0 125.8,335.4 129.6,333.7 127.1,330.4 131.0,331.9 131.6,327.8 133.3,331.6 136.6,329.1 135.1,333.0 139.2,333.6 135.4,335.3 137.9,338.6 134.0,337.1" fill="#90ab62" stroke="#22300f" stroke-width="0.7"/>
<path d="M132.5,334.5 L136.8,341.9 M132.5,334.5 L130.3,342.7 M132.5,334.5 L125.1,338.8 M132.5,334.5 L124.3,332.3 M132.5,334.5 L128.2,327.1 M132.5,334.5 L134.7,326.3 M132.5,334.5 L139.9,330.2 M132.5,334.5 L140.7,336.7 " stroke="#1c2a0c" stroke-width="0.6" fill="none"/>
<rect x="711.3" y="552.5" width="13.5" height="48.5" fill="#bddb9e" stroke="#666" stroke-width="0.8" />
<polygon points="727.5,571.2 722.0,572.8 724.8,577.9 719.7,575.1 718.0,580.7 716.4,575.1 711.3,577.9 714.1,572.8 708.5,571.2 714.1,569.6 711.3,564.5 716.4,567.3 718.0,561.7 719.7,567.3 724.8,564.5 722.0,569.6" fill="#58762f" stroke="#18220c" stroke-width="1"/>
<polygon points="724.0,573.7 720.1,573.2 720.5,577.2 718.0,574.1 715.6,577.2 716.0,573.2 712.1,573.7 715.2,571.2 712.1,568.7 716.0,569.2 715.6,565.2 718.0,568.4 720.5,565.2 720.1,569.2 724.0,568.7 720.9,571.2" fill="#90ab62" stroke="#22300f" stroke-width="0.7"/>
<path d="M718.0,571.2 L726.1,571.2 M718.0,571.2 L723.8,576.9 M718.0,571.2 L718.0,579.3 M718.0,571.2 L712.3,576.9 M718.0,571.2 L710.0,571.2 M718.0,571.2 L712.3,565.5 M718.0,571.2 L718.0,563.1 M718.0,571.2 L723.8,565.5 " stroke="#1c2a0c" stroke-width="0.6" fill="none"/>
<polygon points="727.5,593.9 722.0,595.5 724.8,600.6 719.7,597.8 718.0,603.4 716.4,597.8 711.3,600.6 714.1,595.5 708.5,593.9 714.1,592.3 711.3,587.2 716.4,590.0 718.0,584.4 719.7,590.0 724.8,587.2 722.0,592.3" fill="#58762f" stroke="#18220c" stroke-width="1"/>
<polygon points="724.0,596.4 720.1,595.9 720.5,599.9 718.0,596.8 715.6,599.9 716.0,595.9 712.1,596.4 715.2,593.9 712.1,591.4 716.0,591.9 715.6,587.9 718.0,591.0 720.5,587.9 720.1,591.9 724.0,591.4 720.9,593.9" fill="#90ab62" stroke="#22300f" stroke-width="0.7"/>
<path d="M718.0,593.9 L726.1,593.9 M718.0,593.9 L723.8,599.6 M718.0,593.9 L718.0,602.0 M718.0,593.9 L712.3,599.6 M718.0,593.9 L710.0,593.9 M718.0,593.9 L712.3,588.2 M718.0,593.9 L718.0,585.8 M718.0,593.9 L723.8,588.2 " stroke="#1c2a0c" stroke-width="0.6" fill="none"/>
<rect x="841.0" y="552.5" width="12.7" height="48.5" fill="#bddb9e" stroke="#666" stroke-width="0.8" />
<polygon points="856.9,571.2 851.3,572.8 854.1,577.9 849.0,575.1 847.4,580.7 845.7,575.1 840.6,577.9 843.4,572.8 837.9,571.2 843.4,569.6 840.6,564.5 845.7,567.3 847.4,561.7 849.0,567.3 854.1,564.5 851.3,569.6" fill="#58762f" stroke="#18220c" stroke-width="1"/>
<polygon points="853.3,573.7 849.4,573.2 849.8,577.2 847.4,574.1 844.9,577.2 845.3,573.2 841.4,573.7 844.5,571.2 841.4,568.7 845.3,569.2 844.9,565.2 847.4,568.4 849.8,565.2 849.4,569.2 853.3,568.7 850.2,571.2" fill="#90ab62" stroke="#22300f" stroke-width="0.7"/>
<path d="M847.4,571.2 L855.4,571.2 M847.4,571.2 L853.1,576.9 M847.4,571.2 L847.4,579.3 M847.4,571.2 L841.6,576.9 M847.4,571.2 L839.3,571.2 M847.4,571.2 L841.6,565.5 M847.4,571.2 L847.4,563.1 M847.4,571.2 L853.1,565.5 " stroke="#1c2a0c" stroke-width="0.6" fill="none"/>
<polygon points="856.9,593.9 851.3,595.5 854.1,600.6 849.0,597.8 847.4,603.4 845.7,597.8 840.6,600.6 843.4,595.5 837.9,593.9 843.4,592.3 840.6,587.2 845.7,590.0 847.4,584.4 849.0,590.0 854.1,587.2 851.3,592.3" fill="#58762f" stroke="#18220c" stroke-width="1"/>
<polygon points="853.3,596.4 849.4,595.9 849.8,599.9 847.4,596.8 844.9,599.9 845.3,595.9 841.4,596.4 844.5,593.9 841.4,591.4 845.3,591.9 844.9,587.9 847.4,591.0 849.8,587.9 849.4,591.9 853.3,591.4 850.2,593.9" fill="#90ab62" stroke="#22300f" stroke-width="0.7"/>
<path d="M847.4,593.9 L855.4,593.9 M847.4,593.9 L853.1,599.6 M847.4,593.9 L847.4,602.0 M847.4,593.9 L841.6,599.6 M847.4,593.9 L839.3,593.9 M847.4,593.9 L841.6,588.2 M847.4,593.9 L847.4,585.8 M847.4,593.9 L853.1,588.2 " stroke="#1c2a0c" stroke-width="0.6" fill="none"/>
<polygon points="576.7,421.9 569.2,423.4 572.2,430.4 565.9,426.2 563.1,433.3 561.6,425.8 554.6,428.8 558.8,422.5 551.7,419.7 559.2,418.2 556.2,411.2 562.5,415.4 565.3,408.3 566.8,415.8 573.8,412.8 569.6,419.1" fill="#7a9a48" stroke="#18220c" stroke-width="1"/>
<polygon points="571.7,424.7 566.6,423.7 566.8,428.9 563.9,424.5 560.3,428.3 561.3,423.2 556.1,423.4 560.5,420.5 556.7,416.9 561.8,417.9 561.6,412.7 564.5,417.1 568.1,413.3 567.1,418.4 572.3,418.2 567.9,421.1" fill="#aac685" stroke="#22300f" stroke-width="0.7"/>
<path d="M564.2,420.8 L574.8,421.7 M564.2,420.8 L571.0,428.9 M564.2,420.8 L563.3,431.4 M564.2,420.8 L556.1,427.6 M564.2,420.8 L553.6,419.9 M564.2,420.8 L557.4,412.7 M564.2,420.8 L565.1,410.2 M564.2,420.8 L572.3,414.0 " stroke="#1c2a0c" stroke-width="0.6" fill="none"/>
<polygon points="1017.7,211.9 1010.1,212.5 1012.3,219.8 1006.5,214.8 1002.9,221.5 1002.3,213.9 995.0,216.1 1000.0,210.3 993.3,206.7 1000.9,206.1 998.7,198.8 1004.5,203.8 1008.1,197.1 1008.7,204.7 1016.0,202.5 1011.0,208.3" fill="#7a9a48" stroke="#18220c" stroke-width="1"/>
<polygon points="1012.5,214.1 1007.5,212.4 1007.0,217.7 1004.7,213.0 1000.7,216.3 1002.4,211.3 997.1,210.8 1001.8,208.5 998.5,204.5 1003.5,206.2 1004.0,200.9 1006.3,205.6 1010.3,202.3 1008.6,207.3 1013.9,207.8 1009.2,210.1" fill="#aac685" stroke="#22300f" stroke-width="0.7"/>
<path d="M1005.5,209.3 L1015.9,211.5 M1005.5,209.3 L1011.3,218.2 M1005.5,209.3 L1003.3,219.7 M1005.5,209.3 L996.6,215.1 M1005.5,209.3 L995.1,207.1 M1005.5,209.3 L999.7,200.4 M1005.5,209.3 L1007.7,198.9 M1005.5,209.3 L1014.4,203.5 " stroke="#1c2a0c" stroke-width="0.6" fill="none"/>
<polygon points="188.0,-8.0 181.9,-6.2 184.9,-0.6 179.3,-3.6 177.5,2.5 175.7,-3.6 170.1,-0.6 173.1,-6.2 167.0,-8.0 173.1,-9.8 170.1,-15.4 175.7,-12.4 177.5,-18.5 179.3,-12.4 184.9,-15.4 181.9,-9.8" fill="#7a9a48" stroke="#18220c" stroke-width="1"/>
<polygon points="184.1,-5.3 179.7,-5.8 180.2,-1.4 177.5,-4.8 174.8,-1.4 175.3,-5.8 170.9,-5.3 174.3,-8.0 170.9,-10.7 175.3,-10.2 174.8,-14.6 177.5,-11.2 180.2,-14.6 179.7,-10.2 184.1,-10.7 180.7,-8.0" fill="#aac685" stroke="#22300f" stroke-width="0.7"/>
<path d="M177.5,-8.0 L186.4,-8.0 M177.5,-8.0 L183.8,-1.7 M177.5,-8.0 L177.5,0.9 M177.5,-8.0 L171.2,-1.7 M177.5,-8.0 L168.6,-8.0 M177.5,-8.0 L171.2,-14.3 M177.5,-8.0 L177.5,-16.9 M177.5,-8.0 L183.8,-14.3 " stroke="#1c2a0c" stroke-width="0.6" fill="none"/>
<polygon points="793.0,-3.0 787.2,-1.3 790.1,4.1 784.7,1.2 783.0,7.0 781.3,1.2 775.9,4.1 778.8,-1.3 773.0,-3.0 778.8,-4.7 775.9,-10.1 781.3,-7.2 783.0,-13.0 784.7,-7.2 790.1,-10.1 787.2,-4.7" fill="#7a9a48" stroke="#18220c" stroke-width="1"/>
<polygon points="789.3,-0.4 785.1,-0.9 785.6,3.3 783.0,0.0 780.4,3.3 780.9,-0.9 776.7,-0.4 780.0,-3.0 776.7,-5.6 780.9,-5.1 780.4,-9.3 783.0,-6.0 785.6,-9.3 785.1,-5.1 789.3,-5.6 786.0,-3.0" fill="#aac685" stroke="#22300f" stroke-width="0.7"/>
<path d="M783.0,-3.0 L791.5,-3.0 M783.0,-3.0 L789.0,3.0 M783.0,-3.0 L783.0,5.5 M783.0,-3.0 L777.0,3.0 M783.0,-3.0 L774.5,-3.0 M783.0,-3.0 L777.0,-9.0 M783.0,-3.0 L783.0,-11.5 M783.0,-3.0 L789.0,-9.0 " stroke="#1c2a0c" stroke-width="0.6" fill="none"/>
<path d="M548.5,0 V168.3 H1046.7 V562.7 H553.5 V600" stroke="#444" stroke-width="1.6" stroke-dasharray="7.4,5.3" fill="none"/>
<polygon points="794.7,163.0 787.1,164.2 789.8,171.3 783.7,166.7 780.6,173.7 779.4,166.1 772.3,168.8 776.9,162.7 769.9,159.6 777.5,158.4 774.8,151.3 780.9,155.9 784.0,148.9 785.2,156.5 792.3,153.8 787.7,159.9" fill="#7a9a48" stroke="#18220c" stroke-width="1"/>
<polygon points="789.6,165.6 784.6,164.3 784.4,169.5 781.8,165.0 778.0,168.6 779.3,163.6 774.1,163.4 778.6,160.8 775.0,157.0 780.0,158.3 780.2,153.1 782.8,157.6 786.6,154.0 785.3,159.0 790.5,159.2 786.0,161.8" fill="#aac685" stroke="#22300f" stroke-width="0.7"/>
<path d="M782.3,161.3 L792.8,162.8 M782.3,161.3 L788.7,169.8 M782.3,161.3 L780.8,171.8 M782.3,161.3 L773.8,167.7 M782.3,161.3 L771.8,159.8 M782.3,161.3 L775.9,152.8 M782.3,161.3 L783.8,150.8 M782.3,161.3 L790.8,154.9 " stroke="#1c2a0c" stroke-width="0.6" fill="none"/>
<text x="202.4" y="11.7" font-size="18.5" fill="#151515" stroke="#151515" stroke-width="0.25" text-anchor="start" >Wohnzimmer</text>
<text x="582.2" y="109.5" font-size="18.5" fill="#151515" stroke="#151515" stroke-width="0.25" text-anchor="start" >Freisitz</text>
<text x="317.8" y="274.3" font-size="18.5" fill="#151515" stroke="#151515" stroke-width="0.25" text-anchor="start" >Esszimmer</text>
<text x="450.0" y="330.7" font-size="18.5" fill="#151515" stroke="#151515" stroke-width="0.25" text-anchor="start" >Diele</text>
<text x="613.3" y="264.0" font-size="18.5" fill="#151515" stroke="#151515" stroke-width="0.25" text-anchor="start" >Kind</text>
<text x="731.2" y="264.0" font-size="18.5" fill="#151515" stroke="#151515" stroke-width="0.25" text-anchor="start" >Kind</text>
<text x="684.6" y="380.2" font-size="18.5" fill="#151515" stroke="#151515" stroke-width="0.25" text-anchor="start" >Flur</text>
<text x="909.3" y="385.0" font-size="18.5" fill="#151515" stroke="#151515" stroke-width="0.25" text-anchor="start" >Eltern</text>
<text x="233.3" y="422.7" font-size="18.5" fill="#151515" stroke="#151515" stroke-width="0.25" text-anchor="start" >Küche</text>
<text x="363.6" y="397.0" font-size="18.5" fill="#151515" stroke="#151515" stroke-width="0.25" text-anchor="start" >Garderobe</text>
<text x="446.7" y="481.7" font-size="18.5" fill="#151515" stroke="#151515" stroke-width="0.25" text-anchor="start" >Windfang</text>
<text x="630.1" y="482.7" font-size="18.5" fill="#151515" stroke="#151515" stroke-width="0.25" text-anchor="start" >Gast</text>
<text x="784.3" y="484.5" font-size="18.5" fill="#151515" stroke="#151515" stroke-width="0.25" text-anchor="start" >Bad</text>
<text x="177.8" y="514.0" font-size="18.5" fill="#151515" stroke="#151515" stroke-width="0.25" text-anchor="start" >Speis</text>
<text x="295.8" y="508.0" font-size="18.5" fill="#151515" stroke="#151515" stroke-width="0.25" text-anchor="start" >Putz-</text>
<text x="299.5" y="520.7" font-size="18.5" fill="#151515" stroke="#151515" stroke-width="0.25" text-anchor="start" >raum</text>
<text x="359.2" y="589.7" font-size="18.5" fill="#151515" stroke="#151515" stroke-width="0.25" text-anchor="start" >WC</text>
<text x="965.6" y="508.3" font-size="18.5" fill="#151515" stroke="#151515" stroke-width="0.25" text-anchor="start" transform="rotate(-90 965.6 508.3)">Ankleide</text>
<text x="1033.8" y="538.5" font-size="9.3" fill="#dedede" stroke="#dedede" stroke-width="0.25" text-anchor="start" transform="rotate(-90 1033.8 538.5)">McGrundriss</text>
</svg></body></html>
